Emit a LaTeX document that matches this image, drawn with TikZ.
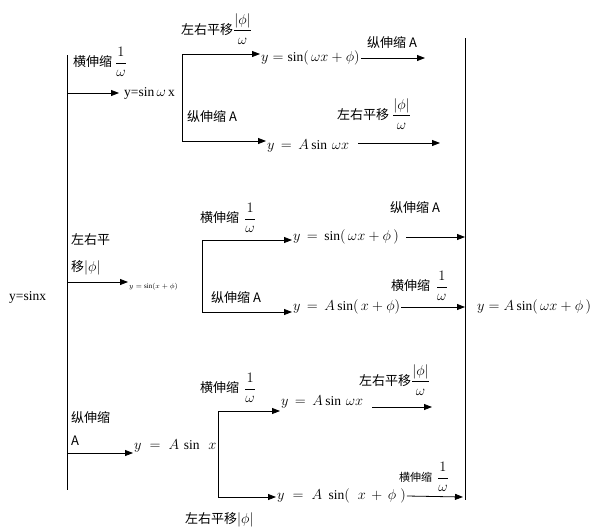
\documentclass[tikz,border=0pt]{standalone}
\usepackage{amsmath}
\usepackage{fontspec}
\setmainfont{Liberation Serif}
\newfontfamily\cjk{Noto Sans CJK SC}
\usepackage{tikz}
\usetikzlibrary{arrows.meta, calc}
\newcommand\fr[2]{{\fontsize{14.4}{16}\selectfont$\dfrac{#1}{#2}$}}
\newcommand\absphi{{\fontsize{14.4}{16}\selectfont$|\phi|$}}

\begin{document}
\begin{tikzpicture}[
  x=1pt, y=-1pt,
  txt/.style={inner sep=1pt, anchor=west, font=\fontsize{13.5}{15}\selectfont},
  lbl/.style={inner sep=1pt, anchor=west, font=\fontsize{13}{15}\selectfont\cjk},
  arr/.style={-{Triangle[length=8pt,width=6pt]}, line width=0.8pt},
  bar/.style={line width=0.8pt}
]
  \useasboundingbox (0,0) rectangle (603,531);

  \coordinate (top) at (67,55);
  \coordinate (bot) at (67,490);
  \coordinate (rtop) at (465,38);
  \coordinate (rbot) at (465,500);
  \draw[bar] (top) -- (bot);
  \draw[bar] (rtop) -- (rbot);

  \node[txt] (src) at (8,297) {y=sinx};
  \node[txt] (res) at (476,307) {$y = A\sin(\,\omega x+\phi\,)$};

  \coordinate (b1) at (67,93);
  \coordinate (b2) at (67,282);
  \coordinate (b3) at (67,453);

  \node[txt] (f1) at (123,93) {y=sin\,$\omega$\,x};
  \node[lbl] (l1) at (72,62) {横伸缩 \fr{1}{\omega}};
  \draw[arr] (b1) -- ($(f1.west)+(-4,0)$);

  \coordinate (s1a) at (182,54);
  \coordinate (s1b) at (182,141);
  \draw[bar] (s1a) -- (s1b);
  \node[txt] (g1) at (260,58) {$y=\sin(\,\omega x+\phi)$};
  \node[lbl] (l2) at (180,29) {左右平移\fr{|\phi|}{\omega}};
  \draw[arr] (s1a) -- (s1a -| g1.west);
  \coordinate (e1) at (425,58);
  \node[lbl] (l3) at (366,43) {纵伸缩 A};
  \draw[arr] (g1.east) -- (e1);

  \node[txt] (g2) at (266,146) {$y \,=\, A\sin\,\omega x$};
  \node[lbl] (l4) at (186,117) {纵伸缩 A};
  \draw[arr] (s1b) -- (s1b -| g2.west);
  \coordinate (e2) at (440,143);
  \node[lbl] (l5) at (336,114) {左右平移 \fr{|\phi|}{\omega}};
  \draw[arr] (g2.east |- e2) ++(8,0) -- (e2);

  \node[lbl] (l6a) at (70,240) {左右平};
  \node[lbl] (l6b) at (70,268) {移\absphi};
  \node[txt, font=\scriptsize] (f2) at (128,287) {$y=\sin(x+\phi)$};
  \draw[arr] (b2) -- (b2 -| f2.west);

  \coordinate (s2a) at (202,240);
  \coordinate (s2b) at (202,312);
  \draw[bar] (s2a) -- (s2b);
  \node[txt] (g3) at (292,237) {$y \,=\, \sin(\,\omega x+\phi\,)$};
  \node[lbl] (l7) at (199,218) {横伸缩 \,\fr{1}{\omega}};
  \draw[arr] (s2a) -- (s2a -| g3.west);
  \coordinate (e3) at (465,237);
  \node[lbl] (l8) at (389,208) {纵伸缩 A};
  \draw[arr] (g3.east) ++(6,0) -- (e3);

  \node[txt] (g4) at (292,307) {$y \,=\, A\sin(\,x+\phi)$};
  \node[lbl] (l9) at (210,298) {纵伸缩 A};
  \draw[arr] (s2b) -- (s2b -| g4.west);
  \coordinate (e4) at (465,307);
  \node[lbl] (l10) at (390,286) {横伸缩 \ \fr{1}{\omega}};
  \draw[arr] (g4.east) -- (e4);

  \node[lbl] (l11a) at (70,418) {纵伸缩};
  \node[lbl] (l11b) at (70,441) {A};
  \node[txt] (f3) at (133,446) {$y \;=\; A\,\sin\;\, x$};
  \draw[arr] (b3) -- (b3 -| f3.west);

  \coordinate (s3a) at (218,411);
  \coordinate (s3b) at (218,497);
  \draw[bar] (s3a) -- (s3b);
  \node[txt] (g5) at (280,402) {$y \,=\, A\sin\,\omega x$};
  \node[lbl] (l12) at (199,388) {横伸缩 \,\fr{1}{\omega}};
  \draw[arr] (s3a) -- (s3a -| g5.west);
  \coordinate (e5) at (432,407);
  \node[lbl] (l13) at (358,380) {左右平移\fr{|\phi|}{\omega}};
  \draw[arr] (g5.east |- e5) ++(8,0) -- (e5);

  \node[txt] (g6) at (276,496) {$y \;=\; A\;\sin(\;\;x \,+\, \phi\;)$};
  \node[lbl] (l14) at (184,520) {左右平移\absphi};
  \draw[arr] (s3b) -- (s3b -| g6.west);
  \coordinate (e6) at (463,497);
  \node[lbl, font=\fontsize{11}{13}\selectfont\cjk] (l15) at (398,477) {横伸缩 \ \fr{1}{\omega}};
  \draw[arr] (g6.east) -- (e6);
\end{tikzpicture}
\end{document}
